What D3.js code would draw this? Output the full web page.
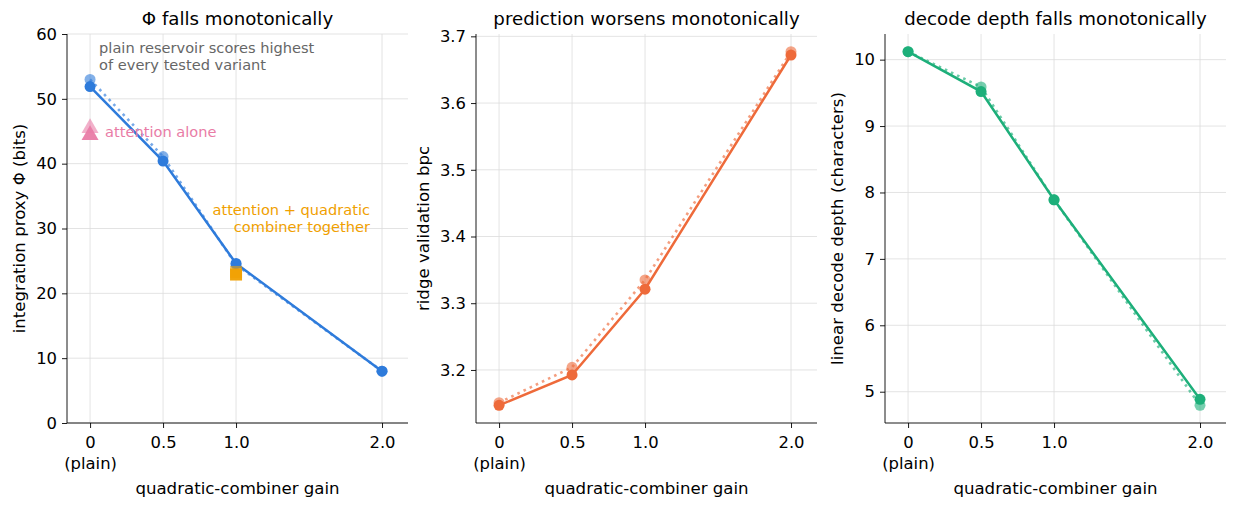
<!DOCTYPE html>
<html>
<head>
<meta charset="utf-8">
<script src="https://cdn.jsdelivr.net/npm/d3@7"></script>
<style>
  body { margin: 0; background: #fff; }
  svg { font-family: "DejaVu Sans", sans-serif; }
  .grid line { stroke: #dcdcdc; stroke-width: 0.8; }
  .axis path, .axis line { stroke: #000; stroke-width: 0.9; }
</style>
</head>
<body>
<svg id="chart" width="1237" height="508"></svg>
<script>
// x：二次组合器增益
const gains = [0, 0.5, 1.0, 2.0];
const xTickLabels = ["0\n(plain)", "0.5", "1.0", "2.0"];

// 每幅图两组：实线（主）+ 点线（复跑）
const phiMain = [51.9, 40.4, 24.6, 8.0];
const phiRerun = [53.0, 41.1, 24.4, 8.0];
const bpcMain = [3.147, 3.1925, 3.321, 3.672];
const bpcRerun = [3.151, 3.204, 3.335, 3.677];
const depthMain = [10.12, 9.52, 7.89, 4.885];
const depthRerun = [10.12, 9.59, 7.89, 4.795];

// 对照变体（只在第一幅图）
const attnAlone = [{ g: 0, v: 45.5, light: true }, { g: 0, v: 44.4, light: false }];
const attnQuad = [{ g: 1.0, v: 23.3, light: true }, { g: 1.0, v: 22.9, light: false }];

const panels = [
  { title: "Φ falls monotonically", ylab: "integration proxy Φ (bits)", main: phiMain, rerun: phiRerun,
    color: "#2e7bdb", left: 67, ylabX: -48, ydom: [0, 60], yticks: [0, 10, 20, 30, 40, 50, 60], fmt: d3.format("d") },
  { title: "prediction worsens monotonically", ylab: "ridge validation bpc", main: bpcMain, rerun: bpcRerun,
    color: "#ee6a3a", left: 476, ylabX: -53, ydom: null, yticks: [3.2, 3.3, 3.4, 3.5, 3.6, 3.7], fmt: d3.format(".1f") },
  { title: "decode depth falls monotonically", ylab: "linear decode depth (characters)", main: depthMain, rerun: depthRerun,
    color: "#1daf7a", left: 885, ylabX: -48, ydom: null, yticks: [5, 6, 7, 8, 9, 10], fmt: d3.format("d") },
];

const svg = d3.select("#chart");
const W = 341, T = 34, H = 389;
const FS_TICK = "16.4px", FS_LAB = "16.6px", FS_TITLE = "18.2px", FS_NOTE = "14.6px";

panels.forEach((p) => {
  const g = svg.append("g").attr("transform", `translate(${p.left},${T})`);
  const x = d3.scaleLinear().domain([-0.158, 2.178]).range([0, W]);
  let dom = p.ydom;
  if (!dom) {
    const all = p.main.concat(p.rerun);
    const lo = d3.min(all), hi = d3.max(all), pad = (hi - lo) * 0.05;
    dom = [lo - pad, hi + pad];
  }
  const y = d3.scaleLinear().domain(dom).range([H, 0]);

  // 网格
  const grid = g.append("g").attr("class", "grid");
  grid.selectAll("line.gx").data(gains).join("line").attr("class", "gx")
    .attr("x1", (d) => x(d)).attr("x2", (d) => x(d)).attr("y1", 0).attr("y2", H);
  grid.selectAll("line.gy").data(p.yticks).join("line").attr("class", "gy")
    .attr("x1", 0).attr("x2", W).attr("y1", (d) => y(d)).attr("y2", (d) => y(d));

  // 坐标轴
  const ax = g.append("g").attr("class", "axis").attr("transform", `translate(0,${H})`)
    .call(d3.axisBottom(x).tickValues(gains).tickSize(5).tickPadding(8).tickSizeOuter(0).tickFormat(() => ""));
  ax.attr("font-size", null).attr("font-family", null);
  ax.select(".domain").attr("d", `M0,0H${W}`);
  ax.selectAll(".tick").each(function (d, i) {
    const t = d3.select(this).select("text").text(null).style("font-size", FS_TICK).attr("fill", "#000");
    xTickLabels[i].split("\n").forEach((s, k) =>
      t.append("tspan").attr("x", 0).attr("dy", k === 0 ? "0.71em" : "1.3em").text(s));
  });
  const ay = g.append("g").attr("class", "axis")
    .call(d3.axisLeft(y).tickValues(p.yticks).tickSize(5).tickPadding(5).tickSizeOuter(0).tickFormat(p.fmt));
  ay.attr("font-size", null).attr("font-family", null);
  ay.selectAll("text").style("font-size", FS_TICK).attr("fill", "#000");
  ay.select(".domain").attr("d", `M0,0V${H}`);

  // 标题与轴标签
  g.append("text").attr("x", W / 2).attr("y", -9).attr("text-anchor", "middle")
    .style("font-size", FS_TITLE).text(p.title);
  g.append("text").attr("x", W / 2).attr("y", H + 71).attr("text-anchor", "middle")
    .style("font-size", FS_LAB).text("quadratic-combiner gain");
  g.append("text").attr("transform", `translate(${p.ylabX},${H / 2}) rotate(-90)`).attr("text-anchor", "middle")
    .attr("dy", "0.35em").style("font-size", FS_LAB).text(p.ylab);

  const line = d3.line().x((d, i) => x(gains[i])).y((d) => y(d));

  // 复跑：点线 + 浅色点
  g.append("path").datum(p.rerun).attr("d", line).attr("fill", "none")
    .attr("stroke", p.color).attr("stroke-opacity", 0.65).attr("stroke-width", 2.6)
    .attr("stroke-dasharray", "2.6 4.2");
  g.selectAll("circle.rerun").data(p.rerun).join("circle").attr("class", "rerun")
    .attr("cx", (d, i) => x(gains[i])).attr("cy", (d) => y(d)).attr("r", 5.5)
    .attr("fill", p.color).attr("fill-opacity", 0.6);

  // 主：实线 + 实心点
  g.append("path").datum(p.main).attr("d", line).attr("fill", "none")
    .attr("stroke", p.color).attr("stroke-width", 2.5);
  g.selectAll("circle.main").data(p.main).join("circle").attr("class", "main")
    .attr("cx", (d, i) => x(gains[i])).attr("cy", (d) => y(d)).attr("r", 5.5)
    .attr("fill", p.color);

  if (p.left !== 67) return;

  // 第一幅的对照变体与注释
  const tri = d3.symbol().type(d3.symbolTriangle).size(125);
  g.selectAll("path.attn").data(attnAlone).join("path").attr("class", "attn")
    .attr("d", tri).attr("transform", (d) => `translate(${x(d.g)},${y(d.v)})`)
    .attr("fill", "#e97ca6").attr("fill-opacity", (d) => (d.light ? 0.6 : 0.95));
  g.selectAll("rect.aq").data(attnQuad).join("rect").attr("class", "aq")
    .attr("x", (d) => x(d.g) - 6).attr("y", (d) => y(d.v) - 6).attr("width", 12).attr("height", 12)
    .attr("fill", "#f0a000").attr("fill-opacity", (d) => (d.light ? 0.6 : 0.95));

  g.append("text").attr("x", x(0) + 15).attr("y", y(44.9)).attr("dy", "0.35em")
    .attr("fill", "#e97ca6").style("font-size", FS_NOTE).text("attention alone");
  const aqT = g.append("text").attr("text-anchor", "end")
    .attr("fill", "#f0a000").style("font-size", FS_NOTE);
  ["attention + quadratic", "combiner together"].forEach((s, k) =>
    aqT.append("tspan").attr("x", x(1.0) + 134).attr("y", 181 + k * 17).text(s));
  const nT = g.append("text").attr("fill", "#666").style("font-size", FS_NOTE);
  ["plain reservoir scores highest", "of every tested variant"].forEach((s, k) =>
    nT.append("tspan").attr("x", x(0) + 9).attr("y", 19 + k * 17).text(s));
});
</script>
</body>
</html>
